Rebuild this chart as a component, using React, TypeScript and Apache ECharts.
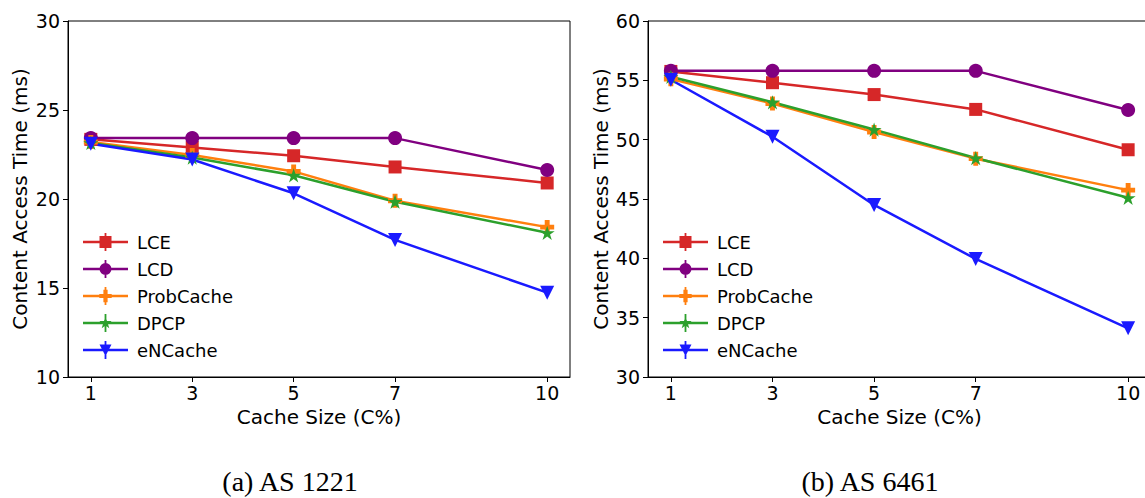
import React, { useEffect, useRef } from "react";
import * as echarts from "echarts";

const xValues = [1, 3, 5, 7, 10];
const xTicks = [1, 3, 5, 7, 10];

// (a) AS 1221
const lceA = [23.35, 22.9, 22.43, 21.8, 20.9];
const lcdA = [23.42, 23.42, 23.42, 23.42, 21.63];
const probA = [23.2, 22.47, 21.55, 19.9, 18.42];
const dpcpA = [23.15, 22.33, 21.33, 19.85, 18.1];
const encA = [23.1, 22.22, 20.32, 17.7, 14.74];

// (b) AS 6461
const lceB = [55.75, 54.8, 53.8, 52.55, 49.15];
const lcdB = [55.8, 55.8, 55.8, 55.8, 52.5];
const probB = [55.1, 53.05, 50.65, 48.4, 45.75];
const dpcpB = [55.3, 53.15, 50.85, 48.45, 45.1];
const encB = [55.05, 50.25, 44.5, 39.95, 34.1];

const seriesNames = ["LCE", "LCD", "ProbCache", "DPCP", "eNCache"];
const colors = ["#d62728", "#800080", "#ff7f0e", "#2ca02c", "#1a1aff"];
const captions = ["(a) AS 1221", "(b) AS 6461"];

const plusPath =
  "path://M-1,-0.35 L-0.35,-0.35 L-0.35,-1 L0.35,-1 L0.35,-0.35 L1,-0.35 L1,0.35 L0.35,0.35 L0.35,1 L-0.35,1 L-0.35,0.35 L-1,0.35 Z";
const starPath =
  "path://M0,-1 L0.2245,-0.309 L0.951,-0.309 L0.363,0.118 L0.588,0.809 L0,0.382 L-0.588,0.809 L-0.363,0.118 L-0.951,-0.309 L-0.2245,-0.309 Z";

const symbols: any[] = ["rect", "circle", plusPath, starPath, "triangle"];
const symbolSizes = [13, 14, 14, 15, 14];
const symbolRotates = [0, 0, 0, 0, 180];

// legend icons in a 45 x 18 box: line + error bar + marker
const base = "M0,7.8 L45,7.8 L45,10.2 L0,10.2 Z M21.6,0 L23.4,0 L23.4,18 L21.6,18 Z ";
const legendIcons = [
  "path://" + base + "M16.5,3 L28.5,3 L28.5,15 L16.5,15 Z",
  "path://" + base + "M16.5,9 A6,6 0 1,1 28.5,9 A6,6 0 1,1 16.5,9 Z",
  "path://" + base +
    "M16.3,6.9 L20.4,6.9 L20.4,2.8 L24.6,2.8 L24.6,6.9 L28.7,6.9 L28.7,11.1 L24.6,11.1 L24.6,15.2 L20.4,15.2 L20.4,11.1 L16.3,11.1 Z",
  "path://" + base +
    "M22.5,2.6 L24.0,7.0 L28.6,7.0 L24.9,9.8 L26.3,14.2 L22.5,11.5 L18.7,14.2 L20.1,9.8 L16.4,7.0 L21.0,7.0 Z",
  "path://" + base + "M16.5,3.5 L28.5,3.5 L22.5,15 Z",
];

const font = "DejaVu Sans";

function buildSeries(values: number[][], axisIndex: number) {
  return values.map((vals, i) => ({
    name: seriesNames[i],
    type: "line",
    xAxisIndex: axisIndex,
    yAxisIndex: axisIndex,
    data: xValues.map((x, j) => [x, vals[j]]),
    symbol: symbols[i],
    symbolSize: symbolSizes[i],
    symbolRotate: symbolRotates[i],
    symbolKeepAspect: true,
    showAllSymbol: true,
    lineStyle: { color: colors[i], width: 2.5 },
    itemStyle: { color: colors[i], borderWidth: 0 },
    emphasis: { disabled: true },
  }));
}

export default function App() {
  const ref = useRef<HTMLDivElement>(null);
  useEffect(() => {
    if (!ref.current) return;
    const chart = echarts.init(ref.current, undefined, { renderer: "svg" });
    const grids = [
      { left: 68, top: 21, width: 502, height: 356 },
      { left: 648, top: 21, width: 503, height: 356 },
    ];
    const yRanges = [
      [10, 30],
      [30, 60],
    ];
    const option: any = {
      animation: false,
      grid: grids.map((g) => ({
        ...g,
        show: true,
        borderColor: "#000",
        borderWidth: 1,
        backgroundColor: "transparent",
      })),
      xAxis: grids.map((_, i) => ({
        type: "value",
        gridIndex: i,
        min: 0.55,
        max: 10.45,
        name: "Cache Size (C%)",
        nameLocation: "middle",
        nameGap: 28,
        nameTextStyle: { fontFamily: font, fontSize: 20, color: "#000" },
        axisLine: { show: true, lineStyle: { color: "#000", width: 1 } },
        axisTick: {
          show: true,
          customValues: xTicks,
          length: 5,
          inside: false,
          lineStyle: { color: "#000" },
        },
        axisLabel: {
          show: true,
          customValues: xTicks,
          margin: 6,
          fontFamily: font,
          fontSize: 19,
          color: "#000",
        },
        splitLine: { show: false },
      })),
      yAxis: grids.map((_, i) => ({
        type: "value",
        gridIndex: i,
        min: yRanges[i][0],
        max: yRanges[i][1],
        interval: 5,
        name: "Content Access Time (ms)",
        nameLocation: "middle",
        nameGap: i === 0 ? 38 : 37,
        nameTextStyle: { fontFamily: font, fontSize: 20, color: "#000" },
        axisLine: { show: true, lineStyle: { color: "#000", width: 1 } },
        axisTick: { show: true, length: 5, inside: false, lineStyle: { color: "#000" } },
        axisLabel: { margin: 8, fontFamily: font, fontSize: 19, color: "#000" },
        splitLine: { show: false },
      })),
      legend: grids.map((g) => ({
        orient: "vertical",
        left: g.left + 15,
        top: 233,
        padding: 0,
        itemWidth: 45,
        itemHeight: 18,
        itemGap: 9,
        selectedMode: false,
        itemStyle: { borderWidth: 0 },
        textStyle: {
          fontFamily: font,
          fontSize: 18,
          color: "#000",
          padding: [0, 0, 0, 4],
        },
        data: seriesNames.map((n, i) => ({ name: n, icon: legendIcons[i] })),
      })),
      series: [
        ...buildSeries([lceA, lcdA, probA, dpcpA, encA], 0),
        ...buildSeries([lceB, lcdB, probB, dpcpB, encB], 1),
      ],
      graphic: [
        {
          type: "text",
          x: 290,
          y: 481,
          style: {
            text: captions[0],
            fontFamily: "Liberation Serif",
            fontSize: 28,
            fill: "#000",
            textAlign: "center",
            textVerticalAlign: "middle",
          },
        },
        {
          type: "text",
          x: 870,
          y: 481,
          style: {
            text: captions[1],
            fontFamily: "Liberation Serif",
            fontSize: 28,
            fill: "#000",
            textAlign: "center",
            textVerticalAlign: "middle",
          },
        },
      ],
    };
    chart.setOption(option);
    return () => chart.dispose();
  }, []);
  return (
    <div
      ref={ref}
      style={{ position: "fixed", left: 0, top: 0, width: 1160, height: 498, background: "#fff" }}
    />
  );
}
